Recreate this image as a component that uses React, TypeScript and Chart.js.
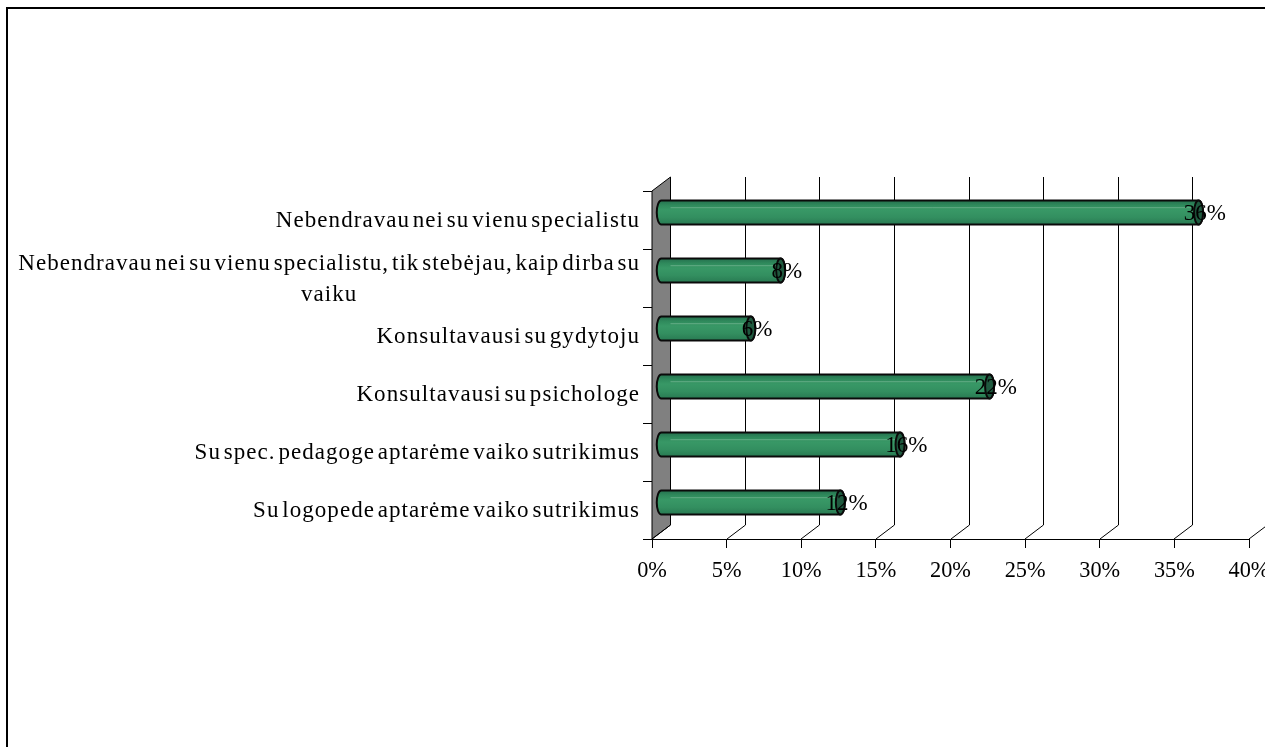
import React, { useEffect, useRef } from "react";
import { Chart, registerables } from "chart.js";

Chart.register(...registerables);

const categories = [
  "Nebendravau nei su vienu specialistu",
  ["Nebendravau nei su vienu specialistu, tik stebėjau, kaip dirba su", "vaiku"],
  "Konsultavausi su gydytoju",
  "Konsultavausi su psichologe",
  "Su spec. pedagoge aptarėme vaiko sutrikimus",
  "Su logopede aptarėme vaiko sutrikimus",
];
const shares = [36, 8, 6, 22, 16, 12];
const axisMax = 40;
const axisStep = 5;

const FONT = '"Liberation Serif", serif';
const LABEL_SIZE = 23;
const TICK_SIZE = 22.3;
const VALUE_SIZE = 23;
const DX = 18.5;
const DY = -14;

const frame3d = {
  id: "frame3d",
  beforeDraw(chart: any) {
    const { ctx } = chart;
    ctx.save();
    ctx.fillStyle = "#ffffff";
    ctx.fillRect(0, 0, chart.width, chart.height);
    ctx.strokeStyle = "#000";
    ctx.lineWidth = 2;
    ctx.beginPath();
    ctx.moveTo(7, chart.height + 5);
    ctx.lineTo(7, 8);
    ctx.lineTo(chart.width + 5, 8);
    ctx.stroke();
    ctx.restore();
  },
  beforeDatasetsDraw(chart: any) {
    const { ctx, chartArea: a, scales } = chart;
    ctx.save();
    ctx.beginPath();
    ctx.moveTo(a.left, a.top);
    ctx.lineTo(a.left + DX, a.top + DY);
    ctx.lineTo(a.left + DX, a.bottom + DY);
    ctx.lineTo(a.left, a.bottom);
    ctx.closePath();
    ctx.fillStyle = "#808080";
    ctx.fill();
    ctx.strokeStyle = "#000";
    ctx.lineWidth = 1;
    ctx.stroke();
    scales.x.ticks.forEach((t: any) => {
      const x = Math.round(scales.x.getPixelForValue(t.value));
      ctx.beginPath();
      ctx.moveTo(x, a.bottom);
      ctx.lineTo(x + DX, a.bottom + DY);
      ctx.lineTo(x + DX, a.top + DY);
      ctx.stroke();
    });
    ctx.restore();
  },
  beforeDatasetDraw(chart: any, args: any) {
    const { ctx, scales } = chart;
    const base = scales.x.getPixelForValue(0) + DX / 2;
    const rx = 4.5;
    args.meta.data.forEach((el: any) => {
      const end = el.x + DX / 2;
      const cy = el.y + DY / 2 - 0.5;
      const h = el.height;
      const top = cy - h / 2;
      const grad = ctx.createLinearGradient(0, top, 0, top + h);
      grad.addColorStop(0, "#25704e");
      grad.addColorStop(0.2, "#2f8a5c");
      grad.addColorStop(0.4, "#389866");
      grad.addColorStop(0.7, "#338f60");
      grad.addColorStop(1, "#287a52");
      ctx.save();
      ctx.beginPath();
      ctx.moveTo(end, top);
      ctx.lineTo(base, top);
      ctx.ellipse(base, cy, rx, h / 2, 0, -Math.PI / 2, -Math.PI * 1.5, true);
      ctx.lineTo(end, top + h);
      ctx.ellipse(end, cy, rx, h / 2, 0, Math.PI / 2, -Math.PI / 2, true);
      ctx.closePath();
      ctx.fillStyle = grad;
      ctx.fill();
      ctx.strokeStyle = "#0a0a0a";
      ctx.lineWidth = 2;
      ctx.stroke();
      ctx.strokeStyle = "rgba(170,215,190,0.4)";
      ctx.lineWidth = 1;
      ctx.beginPath();
      ctx.moveTo(base + DX / 2, top + h * 0.3);
      ctx.lineTo(end - rx, top + h * 0.3);
      ctx.stroke();
      ctx.beginPath();
      ctx.ellipse(end, cy, rx, h / 2, 0, 0, Math.PI * 2);
      ctx.fillStyle = "#1f5a3f";
      ctx.fill();
      ctx.strokeStyle = "#0a0a0a";
      ctx.lineWidth = 2;
      ctx.stroke();
      ctx.restore();
    });
    return false;
  },
  afterDatasetsDraw(chart: any) {
    const { ctx, scales } = chart;
    ctx.save();
    ctx.fillStyle = "#000";
    ctx.textBaseline = "middle";
    ctx.textAlign = "center";
    ctx.font = `${VALUE_SIZE}px ${FONT}`;
    chart.getDatasetMeta(0).data.forEach((el: any, i: number) => {
      ctx.fillText(`${shares[i]}%`, el.x + 15.5, el.y + DY / 2 + 1);
    });
    // category labels: block right-aligned, lines centred inside the block
    ctx.font = `${LABEL_SIZE}px ${FONT}`;
    (ctx as any).letterSpacing = "1.05px";
    (ctx as any).wordSpacing = "-4px";
    const y = scales.y;
    const right = 640;
    categories.forEach((label, i) => {
      const lines = Array.isArray(label) ? label : [label];
      const widest = Math.max(...lines.map((l) => ctx.measureText(l).width));
      const cy = y.getPixelForTick(i) + 1;
      lines.forEach((line, j) => {
        ctx.fillText(line, right - widest / 2, cy + (j - (lines.length - 1) / 2) * 31);
      });
    });
    ctx.restore();
  },
};

export default function App() {
  const ref = useRef<HTMLCanvasElement>(null);
  useEffect(() => {
    const chart = new Chart(ref.current!, {
      type: "bar",
      data: {
        labels: categories as any,
        datasets: [
          {
            data: shares,
            backgroundColor: "#2e8b57",
            barPercentage: 24 / 58,
            categoryPercentage: 1,
          },
        ],
      },
      plugins: [frame3d],
      options: {
        indexAxis: "y",
        responsive: false,
        animation: false,
        layout: { padding: { left: 0, right: 16, top: 191, bottom: 0 } },
        plugins: { legend: { display: false }, title: { display: false }, tooltip: { enabled: false } },
        scales: {
          x: {
            min: 0,
            max: axisMax,
            border: { display: true, color: "#000", width: 1 },
            grid: { drawOnChartArea: false, color: "#000", tickLength: 9, tickColor: "#000" },
            ticks: {
              stepSize: axisStep,
              maxRotation: 0,
              autoSkip: false,
              color: "#000",
              padding: 10,
              font: { family: FONT, size: TICK_SIZE },
              callback: (v: any) => `${v}%`,
            },
            afterFit(s: any) {
              s.height = 208;
              s.paddingLeft = 0;
              s.paddingRight = 0;
            },
          },
          y: {
            border: { display: true, color: "#000", width: 1 },
            grid: { drawOnChartArea: false, offset: true, color: "#000", tickLength: 9, tickColor: "#000" },
            ticks: { display: false, autoSkip: false },
            afterFit(s: any) {
              s.width = 652;
              s.paddingTop = 0;
              s.paddingBottom = 0;
            },
          },
        },
      },
    } as any);
    return () => chart.destroy();
  }, []);
  return (
    <canvas
      ref={ref}
      width={1265}
      height={747}
      style={{ position: "fixed", left: 0, top: 0, display: "block" }}
    />
  );
}
